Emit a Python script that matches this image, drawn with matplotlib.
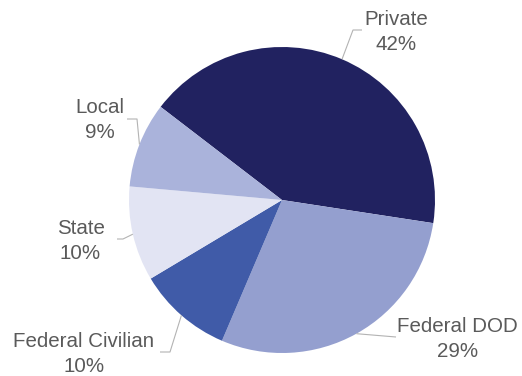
import numpy as np
import matplotlib
matplotlib.use("Agg")
import matplotlib.pyplot as plt

# Workforce share by sector
sectors = ["Private", "Federal DOD", "Federal Civilian", "State", "Local"]
shares = [42, 29, 10, 10, 9]
slice_colors = ["#212260", "#949fcf", "#405ba8", "#e2e4f3", "#aab3db"]

W, H = 522, 376
fig = plt.figure(figsize=(W / 100, H / 100), dpi=100)
ax = fig.add_axes([0, 0, 1, 1])

cx, cy, r = 282, H - 200, 153
start = 142.5

wedges, _ = ax.pie(shares, colors=slice_colors, startangle=start,
                   counterclock=False, radius=r, center=(cx, cy),
                   wedgeprops=dict(linewidth=0), frame=True)
ax.set_xlim(0, W)
ax.set_ylim(0, H)
ax.set_aspect("equal")
ax.axis("off")

# label layout: (text center x, baseline y of first line from top, elbow points from top)
layout = {
    "Private": (396, 25, [(353, 30), (362, 30)]),
    "Federal DOD": (457.5, 332, [(396, 337)]),
    "Federal Civilian": (84, 347, [(170, 352), (160, 352)]),
    "State": (80.5, 234, [(123, 239), (117, 239)]),
    "Local": (100, 113, [(137, 119), (127, 119)]),
}

txt_color = "#5a5a5a"
line_color = "#b3b3b3"
fs = 14.8
family = ["Liberation Sans", "DejaVu Sans"]

for w, name, val in zip(wedges, sectors, shares):
    mid = np.deg2rad((w.theta1 + w.theta2) / 2)
    ax_x = cx + r * np.cos(mid)
    ax_y = cy + r * np.sin(mid)
    tx, base, elbows = layout[name]
    xs = [ax_x] + [p[0] for p in elbows]
    ys = [ax_y] + [H - p[1] for p in elbows]
    ax.plot(xs, ys, color=line_color, lw=0.8, solid_capstyle="butt", zorder=3)
    ax.text(tx, H - base, name, ha="center", va="baseline", fontsize=fs,
            color=txt_color, family=family)
    ax.text(tx, H - base - 25, f"{val}%", ha="center", va="baseline",
            fontsize=fs, color=txt_color, family=family)

fig.savefig("out.png", dpi=100)
